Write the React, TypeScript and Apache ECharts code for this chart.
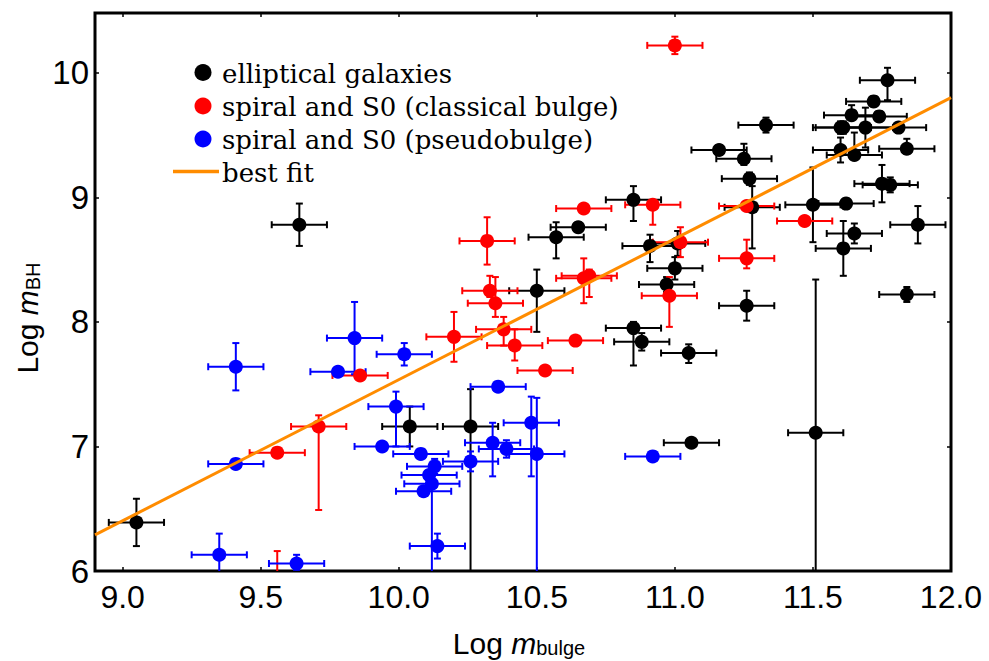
import React, { useEffect, useRef } from "react";
import * as echarts from "echarts";

// ---------- axes ----------
const xMin = 8.9;
const xMax = 12.0;
const yMin = 6;
const yMax = 10.48;
const xTicks = [9.0, 9.5, 10.0, 10.5, 11.0, 11.5, 12.0];
const yTicks = [6, 7, 8, 9, 10];

const seriesNames = [
  "elliptical galaxies",
  "spiral and S0 (classical bulge)",
  "spiral and S0 (pseudobulge)",
  "best fit",
];
const seriesColors = ["#000000", "#ff0000", "#0000ff", "#ff8c00"];

// ---------- elliptical galaxies ----------
const ellX = [9.05, 9.64, 10.04, 10.26, 10.50, 10.57, 10.65, 10.85, 10.91, 11.01, 11.00, 10.97, 10.85, 10.88, 11.05, 11.06, 11.51, 11.26, 11.28, 11.27, 11.25, 11.16, 11.33, 11.50, 11.62, 11.61, 11.65, 11.75, 11.78, 11.88, 11.84, 11.60, 11.65, 11.84, 11.60, 11.61, 11.69, 11.81, 11.64, 11.74, 11.72, 11.77];
const ellY = [6.39, 8.78, 7.16, 7.16, 8.25, 8.68, 8.76, 8.98, 8.61, 8.63, 8.43, 8.30, 7.95, 7.84, 7.75, 7.03, 7.11, 8.13, 8.92, 9.15, 9.31, 9.38, 9.58, 8.94, 8.95, 8.59, 8.71, 9.11, 9.10, 8.78, 8.22, 9.38, 9.34, 9.39, 9.56, 9.56, 9.56, 9.56, 9.66, 9.65, 9.77, 9.94];
const ellXErr = [0.1, 0.1, 0.1, 0.1, 0.1, 0.1, 0.1, 0.1, 0.1, 0.1, 0.1, 0.1, 0.1, 0.1, 0.1, 0.1, 0.1, 0.1, 0.1, 0.1, 0.1, 0.1, 0.1, 0.1, 0.1, 0.1, 0.1, 0.1, 0.1, 0.1, 0.1, 0.1, 0.1, 0.1, 0.1, 0.1, 0.1, 0.1, 0.1, 0.1, 0.1, 0.1];
const ellYUp = [0.19, 0.17, 0.16, 0.30, 0.17, 0.12, 0.04, 0.11, 0.09, 0.10, 0.09, 0.06, 0.05, 0.07, 0.07, 0.02, 1.23, 0.12, 0.17, 0.05, 0.12, 0.04, 0.06, 0.30, 0.04, 0.22, 0.08, 0.15, 0.06, 0.15, 0.06, 0.10, 0.18, 0.08, 0.05, 0.05, 0.16, 0.04, 0.08, 0.04, 0.04, 0.10];
const ellYDown = [0.19, 0.17, 0.16, 1.50, 0.33, 0.17, 0.04, 0.17, 0.13, 0.10, 0.09, 0.06, 0.30, 0.07, 0.08, 0.02, 1.50, 0.12, 0.33, 0.05, 0.05, 0.04, 0.06, 0.30, 0.04, 0.22, 0.08, 0.15, 0.06, 0.15, 0.06, 0.10, 0.04, 0.04, 0.05, 0.05, 0.16, 0.04, 0.04, 0.04, 0.04, 0.16];

// ---------- spiral and S0, classical bulge ----------
const clsX = [9.56, 9.71, 9.86, 10.20, 10.32, 10.33, 10.35, 10.38, 10.42, 10.53, 10.64, 10.67, 10.69, 10.67, 10.92, 11.02, 10.98, 11.00, 11.26, 11.26, 11.47, 9.56];
const clsY = [6.95, 7.16, 7.57, 7.88, 8.65, 8.25, 8.15, 7.94, 7.81, 7.61, 7.85, 8.35, 8.37, 8.91, 8.94, 8.64, 8.21, 10.22, 8.93, 8.51, 8.81, 5.90];
const clsXErr = [0.1, 0.1, 0.1, 0.1, 0.1, 0.1, 0.1, 0.1, 0.1, 0.1, 0.1, 0.1, 0.1, 0.1, 0.1, 0.1, 0.1, 0.1, 0.1, 0.1, 0.1, 0.1];
const clsYUp = [0.03, 0.09, 0.03, 0.20, 0.19, 0.12, 0.21, 0.10, 0.13, 0.03, 0.03, 0.16, 0.05, 0.03, 0.03, 0.12, 0.15, 0.07, 0.03, 0.15, 0.03, 0.26];
const clsYDown = [0.03, 0.67, 0.03, 0.20, 0.19, 0.05, 0.11, 0.13, 0.12, 0.03, 0.03, 0.20, 0.17, 0.03, 0.16, 0.12, 0.25, 0.07, 0.03, 0.08, 0.03, 0.10];

// ---------- spiral and S0, pseudobulge ----------
const psX = [9.35, 9.41, 9.41, 9.63, 9.78, 9.84, 9.94, 9.99, 10.02, 10.08, 10.13, 10.11, 10.12, 10.09, 10.14, 10.26, 10.34, 10.39, 10.36, 10.48, 10.50, 10.92];
const psY = [6.13, 7.64, 6.86, 6.06, 7.60, 7.87, 7.00, 7.32, 7.74, 6.94, 6.84, 6.77, 6.70, 6.64, 6.20, 6.88, 7.03, 6.98, 7.48, 7.19, 6.94, 6.92];
const psXErr = [0.1, 0.1, 0.1, 0.1, 0.1, 0.1, 0.1, 0.1, 0.1, 0.1, 0.1, 0.1, 0.1, 0.1, 0.1, 0.1, 0.1, 0.1, 0.1, 0.1, 0.1, 0.1];
const psYUp = [0.17, 0.19, 0.02, 0.07, 0.03, 0.29, 0.02, 0.12, 0.09, 0.02, 0.06, 0.04, 0.04, 0.03, 0.10, 0.08, 0.16, 0.07, 0.02, 0.21, 0.45, 0.02];
const psYDown = [0.17, 0.19, 0.02, 0.05, 0.03, 0.29, 0.02, 0.32, 0.09, 0.02, 0.06, 0.04, 1.50, 0.03, 0.10, 0.08, 0.27, 0.07, 0.02, 0.43, 1.50, 0.02];

// ---------- best fit ----------
const fitX = [8.9, 12.0];
const fitY = [6.29, 9.8];

const SANS = "'Liberation Sans', Arial, Helvetica, sans-serif";
const SERIF = "'DejaVu Serif', serif";

function buildRows(xs: number[], ys: number[], xe: number[], yu: number[], yd: number[]) {
  return xs.map((x, i) => [x, ys[i], xe[i], yu[i], yd[i]]);
}

function errRender(color: string) {
  return (params: any, api: any) => {
    const x = api.value(0);
    const y = api.value(1);
    const xe = api.value(2);
    const yu = api.value(3);
    const yd = api.value(4);
    const cs = params.coordSys;
    const top = cs.y;
    const bottom = cs.y + cs.height;
    const left = cs.x;
    const right = cs.x + cs.width;
    const c = api.coord([x, y]);
    const l = api.coord([x - xe, y]);
    const r = api.coord([x + xe, y]);
    const t = api.coord([x, y + yu]);
    const b = api.coord([x, y - yd]);
    const style = { stroke: color, lineWidth: 2 };
    const cap = 3.5;
    const children: any[] = [];
    if (c[1] >= top && c[1] <= bottom) {
      const x1 = Math.max(l[0], left);
      const x2 = Math.min(r[0], right);
      children.push({ type: "line", shape: { x1, y1: c[1], x2, y2: c[1] }, style });
      if (l[0] >= left)
        children.push({ type: "line", shape: { x1: l[0], y1: c[1] - cap, x2: l[0], y2: c[1] + cap }, style });
      if (r[0] <= right)
        children.push({ type: "line", shape: { x1: r[0], y1: c[1] - cap, x2: r[0], y2: c[1] + cap }, style });
    }
    const y1 = Math.max(t[1], top);
    const y2 = Math.min(b[1], bottom);
    if (y2 > y1) {
      children.push({ type: "line", shape: { x1: c[0], y1, x2: c[0], y2 }, style });
      if (t[1] >= top)
        children.push({ type: "line", shape: { x1: c[0] - cap, y1: t[1], x2: c[0] + cap, y2: t[1] }, style });
      if (b[1] <= bottom)
        children.push({ type: "line", shape: { x1: c[0] - cap, y1: b[1], x2: c[0] + cap, y2: b[1] }, style });
    }
    return { type: "group", children };
  };
}

const groups = [
  { rows: buildRows(ellX, ellY, ellXErr, ellYUp, ellYDown), color: seriesColors[0], name: seriesNames[0] },
  { rows: buildRows(clsX, clsY, clsXErr, clsYUp, clsYDown), color: seriesColors[1], name: seriesNames[1] },
  { rows: buildRows(psX, psY, psXErr, psYUp, psYDown), color: seriesColors[2], name: seriesNames[2] },
];

function buildOption() {
  const series: any[] = [];
  groups.forEach((g) => {
    series.push({
      type: "custom",
      name: g.name + " errors",
      renderItem: errRender(g.color),
      data: g.rows,
      encode: { x: 0, y: 1 },
      silent: true,
      z: 2,
    });
    series.push({
      type: "scatter",
      name: g.name,
      data: g.rows.map((r) => [r[0], r[1]]),
      symbol: "circle",
      symbolSize: 14,
      itemStyle: { color: g.color, opacity: 1 },
      clip: true,
      z: 3,
    });
  });
  series.push({
    type: "line",
    name: seriesNames[3],
    data: fitX.map((x, i) => [x, fitY[i]]),
    showSymbol: false,
    symbol: "none",
    lineStyle: { color: seriesColors[3], width: 3 },
    clip: true,
    z: 5,
  });

  const legendY = [72.5, 106, 139, 171.5];
  const legendGraphics: any[] = [];
  for (let i = 0; i < 3; i++) {
    legendGraphics.push({
      type: "circle",
      shape: { cx: 203, cy: legendY[i], r: 8.5 },
      style: { fill: seriesColors[i] },
    });
  }
  legendGraphics.push({
    type: "line",
    shape: { x1: 173, y1: legendY[3], x2: 219, y2: legendY[3] },
    style: { stroke: seriesColors[3], lineWidth: 3.5 },
  });
  seriesNames.forEach((n, i) => {
    legendGraphics.push({
      type: "text",
      x: 222,
      y: legendY[i] + 1,
      style: {
        text: n,
        fontSize: 26,
        fontFamily: SERIF,
        fill: "#000",
        align: "left",
        verticalAlign: "middle",
      },
    });
  });

  const titleRich = {
    n: { fontSize: 30, fontFamily: SANS, lineHeight: 36, verticalAlign: "bottom", fill: "#000" },
    i: { fontSize: 30, fontFamily: SANS, fontStyle: "italic", lineHeight: 36, verticalAlign: "bottom", fill: "#000" },
    s: { fontSize: 20, fontFamily: SANS, lineHeight: 20, verticalAlign: "bottom", fill: "#000" },
  };

  const axisTitleGraphics = [
    {
      type: "text",
      x: 519,
      y: 640,
      style: {
        text: "{n|Log }{i|m}{s|bulge}",
        rich: titleRich,
        align: "center",
        verticalAlign: "middle",
      },
    },
    {
      type: "text",
      x: 24.5,
      y: 318,
      rotation: Math.PI / 2,
      style: {
        text: "{n|Log }{i|m}{s|BH}",
        rich: titleRich,
        align: "center",
        verticalAlign: "middle",
      },
    },
  ];

  const tickStyle = { color: "#000", width: 1.5 };

  return {
    animation: false,
    backgroundColor: "#ffffff",
    grid: {
      left: 95,
      top: 13,
      width: 856,
      height: 558,
      show: true,
      borderColor: "#000",
      borderWidth: 3,
      backgroundColor: "transparent",
      containLabel: false,
    },
    xAxis: [
      {
        type: "value",
        min: xMin,
        max: xMax,
        position: "bottom",
        axisLine: { show: false },
        splitLine: { show: false },
        axisTick: { show: true, inside: true, length: 4, customValues: xTicks, lineStyle: tickStyle },
        axisLabel: {
          show: true,
          customValues: xTicks,
          formatter: (v: number) => v.toFixed(1),
          fontSize: 32,
          fontFamily: SANS,
          color: "#000",
          margin: 10,
        },
      },
      {
        type: "value",
        min: xMin,
        max: xMax,
        position: "top",
        axisLine: { show: false },
        splitLine: { show: false },
        axisTick: { show: true, inside: true, length: 4, customValues: xTicks, lineStyle: tickStyle },
        axisLabel: { show: false },
      },
    ],
    yAxis: [
      {
        type: "value",
        min: yMin,
        max: yMax,
        position: "left",
        axisLine: { show: false },
        splitLine: { show: false },
        axisTick: { show: true, inside: true, length: 4, customValues: yTicks, lineStyle: tickStyle },
        axisLabel: {
          show: true,
          customValues: yTicks,
          formatter: (v: number) => String(v),
          fontSize: 33,
          fontFamily: SANS,
          color: "#000",
          margin: 6,
        },
      },
      {
        type: "value",
        min: yMin,
        max: yMax,
        position: "right",
        axisLine: { show: false },
        splitLine: { show: false },
        axisTick: { show: true, inside: true, length: 4, customValues: yTicks, lineStyle: tickStyle },
        axisLabel: { show: false },
      },
    ],
    series,
    graphic: [...legendGraphics, ...axisTitleGraphics],
  };
}

export default function App() {
  const ref = useRef<HTMLDivElement>(null);
  useEffect(() => {
    document.body.style.margin = "0";
    const chart = echarts.init(ref.current as HTMLDivElement, undefined, { renderer: "svg" });
    chart.setOption(buildOption() as any);
    return () => chart.dispose();
  }, []);
  return <div ref={ref} style={{ width: 989, height: 661 }} />;
}
